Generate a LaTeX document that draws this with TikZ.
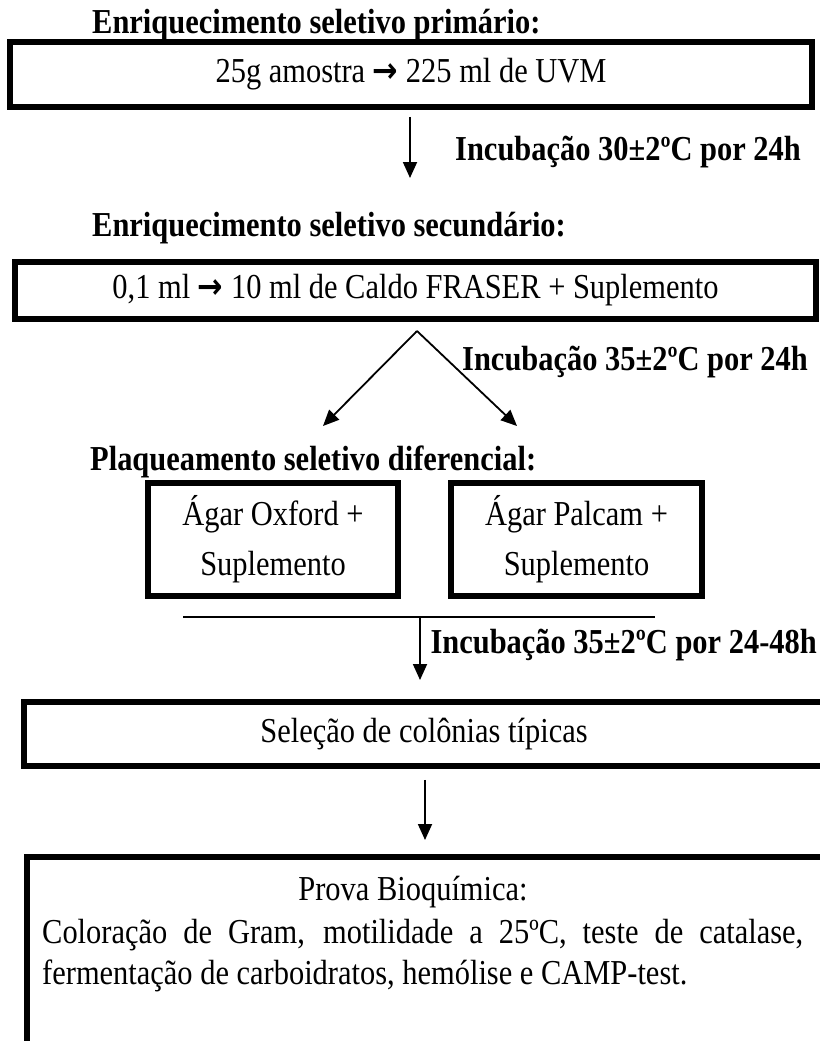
\documentclass[tikz,border=0pt]{standalone}
\usepackage{fontspec}
\setmainfont{Liberation Serif}[FakeStretch=0.87]
\newfontfamily\arrowfont{DejaVu Sans}[FakeStretch=0.87]
\usetikzlibrary{arrows.meta,positioning}
\tikzset{
  every node/.style={font=\fontsize{35}{50}\selectfont, inner sep=0pt},
  stepbox/.style={draw, line width=5.5pt, align=center},
  title/.style={font=\fontsize{35}{40}\selectfont\bfseries, anchor=west},
  arr/.style={line width=1.8pt, -{Triangle[length=16pt,width=14pt]}}
}
\newcommand{\sarrow}{{\arrowfont\bfseries →}}
\begin{document}
\begin{tikzpicture}[x=1pt,y=-1pt]
  \useasboundingbox (0,0) rectangle (819,1041);
  \node[title] (head1) at (92,25) {Enriquecimento seletivo primário:};
  \node[stepbox, minimum width=802pt, minimum height=65pt] (box1) at (411,74.5)
    {25g amostra \sarrow{} 225 ml de UVM};
  \coordinate (a1) at (410,178);
  \draw[arr, shorten <=7pt] (a1 |- box1.south) -- (a1);
  \node[title] (lab1) at (455,152) {Incubação 30±2ºC por 24h};

  \node[title] (head2) at (92,228) {Enriquecimento seletivo secundário:};
  \node[stepbox, minimum width=801pt, minimum height=57pt] (box2) at (415.5,290.5)
    {0,1 ml \sarrow{} 10 ml de Caldo FRASER + Suplemento};
  \coordinate (top) at (417,331);
  \coordinate (left) at (323,426);
  \coordinate (right) at (517,426);
  \draw[arr] (top) -- (left);
  \draw[arr] (top) -- (right);
  \node[title] (lab2) at (462,362) {Incubação 35±2ºC por 24h};

  \node[title] (head3) at (90,462) {Plaqueamento seletivo diferencial:};
  \node[stepbox, minimum width=250pt, minimum height=113pt] (oxford) at (273,539.5)
    {Ágar Oxford +\\Suplemento};
  \node[stepbox, minimum width=251pt, minimum height=113pt] (palcam) at (576.5,539.5)
    {Ágar Palcam +\\Suplemento};
  \coordinate (jl) at (183,617);
  \coordinate (jr) at (655,617);
  \draw[line width=2.2pt] (jl) -- (jr);
  \coordinate (a3) at (420,680);
  \draw[arr] (a3 |- jl) -- (a3);
  \node[title, anchor=east] (lab3) at (817,645) {Incubação 35±2ºC por 24-48h};

  \node[stepbox, minimum width=800pt, minimum height=64pt] (box4) at (424,734)
    {Seleção de colônias típicas};
  \coordinate (a4) at (425,840);
  \draw[arr, shorten <=11pt] (a4 |- box4.south) -- (a4);

  \node[stepbox, minimum width=806pt, minimum height=220pt, anchor=north west] (box5) at (24,854) {};
  \node[anchor=base] (biotitle) at (413,900) {Prova Bioquímica:};
  \node[font=\fontsize{35}{41}\selectfont, text width=761pt, align=justify, anchor=base west] (biotext) at (42,943)
    {Coloração de Gram, motilidade a 25ºC, teste de catalase,\linebreak fermentação de carboidratos, hemólise e CAMP-test.};
\end{tikzpicture}
\end{document}
